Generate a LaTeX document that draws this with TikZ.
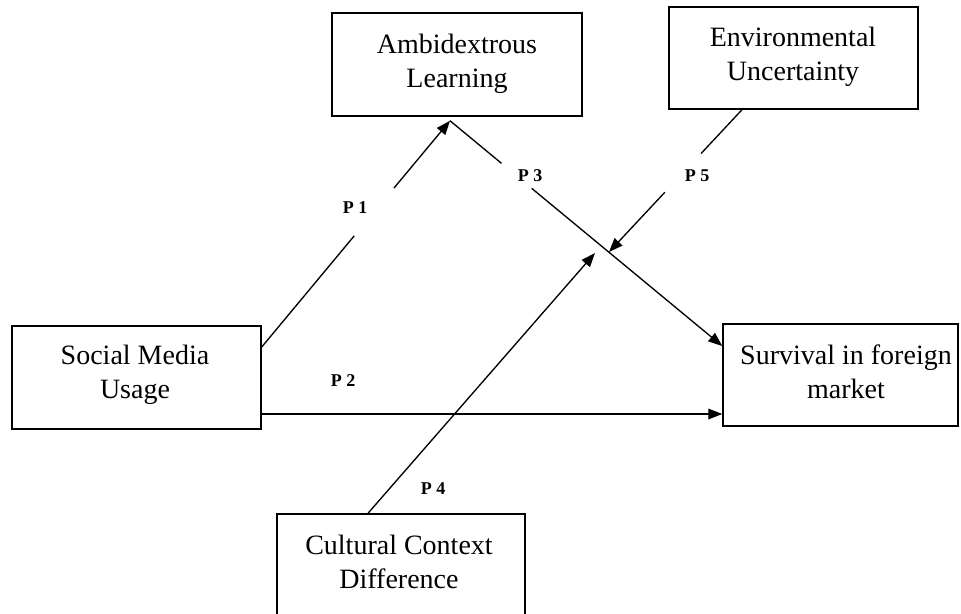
\documentclass[tikz,border=0pt]{standalone}
\usepackage{fontspec}
\setmainfont{Liberation Serif}
\usetikzlibrary{arrows.meta,calc}
\begin{document}
\begin{tikzpicture}[x=0.75pt,y=-0.75pt,
  box/.style={draw, line width=1.1pt, rectangle, inner sep=0pt},
  boxtext/.style={align=center, font=\fontsize{21}{25.5}\selectfont, inner sep=0pt},
  plabel/.style={font=\fontsize{13.5}{16}\selectfont\bfseries, inner sep=0pt},
  link/.style={line width=1pt},
  arrowlink/.style={link, -{Triangle[length=10.5pt,width=8pt]}}]
\useasboundingbox (0,0) rectangle (961,614);

% construct boxes
\node[box, minimum width=187.5pt, minimum height=77.25pt] (amb) at (457,64.5) {};
\node[box, minimum width=186.75pt, minimum height=76.5pt] (env) at (793.5,58) {};
\node[box, minimum width=186.75pt, minimum height=77.25pt] (smu) at (136.5,377.5) {};
\node[box, minimum width=176.25pt, minimum height=76.5pt] (sur) at (840.5,375) {};
\node[box, minimum width=186pt, minimum height=78pt] (ccd) at (401,566) {};

% box captions
\node[boxtext] (amb-text) at (457,63.5) {Ambidextrous\\Learning};
\node[boxtext] (env-text) at (793,56.5) {Environmental\\Uncertainty};
\node[boxtext] (smu-text) at (135,375) {Social Media\\Usage};
\node[boxtext] (sur-text) at (846,372) {Survival in foreign\\market};
\node[boxtext] (ccd-text) at (399,561.5) {Cultural Context\\Difference};

% attachment points on the box borders
\coordinate (p1s) at ($(smu.east)+(0,-30.5)$);
\coordinate (ambin) at ($(amb.south)+(-7,4)$);
\coordinate (p3e) at ($(sur.west)+(0,-29)$);
\coordinate (p2s) at ($(smu.east)+(0,36.5)$);
\coordinate (p2e) at (sur.west |- p2s);
\coordinate (p4s) at ($(ccd.north)+(-33,0)$);
\coordinate (p5s) at ($(env.south)+(-51.5,0)$);
% free ends of the moderating arrows
\coordinate (m4) at (595,253);
\coordinate (m5) at (609,252);

% P1: Social Media Usage -> Ambidextrous Learning (broken around its label)
\draw[link] (p1s) -- ($(p1s)!0.491!(ambin)$);
\draw[arrowlink] ($(p1s)!0.702!(ambin)$) -- (ambin);

% P3: Ambidextrous Learning -> Survival in foreign market
\draw[link] (ambin) -- ($(ambin)!0.189!(p3e)$);
\draw[arrowlink] ($(ambin)!0.30!(p3e)$) -- (p3e);

% P2: Social Media Usage -> Survival in foreign market
\draw[arrowlink] (p2s) -- (p2e);

% P4: Cultural Context Difference moderates P3
\draw[arrowlink] (p4s) -- (m4);

% P5: Environmental Uncertainty moderates P3
\draw[link] (p5s) -- ($(p5s)!0.308!(m5)$);
\draw[arrowlink] ($(p5s)!0.58!(m5)$) -- (m5);

% proposition labels
\node[plabel] (l1) at (355,208) {P 1};
\node[plabel] (l2) at (343,381) {P 2};
\node[plabel] (l3) at (530,176) {P 3};
\node[plabel] (l4) at (433,489) {P 4};
\node[plabel] (l5) at (697,176) {P 5};
\end{tikzpicture}
\end{document}
